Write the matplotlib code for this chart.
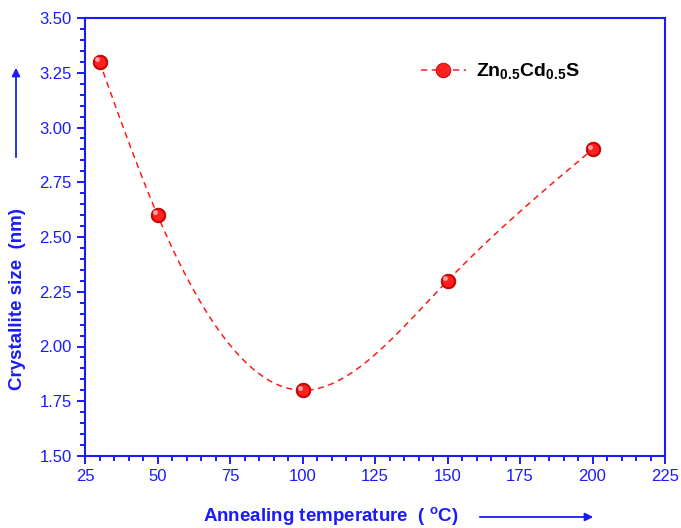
import matplotlib
matplotlib.use('Agg')
import matplotlib.pyplot as plt
from matplotlib.ticker import MultipleLocator
import numpy as np

BLUE = '#1a1aff'

temperature = [30, 50, 100, 150, 200]
crystallite_size = [3.30, 2.60, 1.80, 2.30, 2.90]
legend_label = r'$\mathbf{Zn_{0.5}Cd_{0.5}S}$'

plt.rcParams['font.family'] = ['Liberation Sans', 'DejaVu Sans']
plt.rcParams['mathtext.fontset'] = 'custom'
plt.rcParams['mathtext.bf'] = 'Liberation Sans:bold'
plt.rcParams['mathtext.rm'] = 'Liberation Sans'


def natural_spline(x, y, n=300):
    # natural cubic spline through the points, for the smooth dashed line
    x = np.asarray(x, float)
    y = np.asarray(y, float)
    k = len(x)
    h = np.diff(x)
    A = np.zeros((k, k))
    b = np.zeros(k)
    A[0, 0] = A[-1, -1] = 1
    for i in range(1, k - 1):
        A[i, i - 1] = h[i - 1]
        A[i, i] = 2 * (h[i - 1] + h[i])
        A[i, i + 1] = h[i]
        b[i] = 6 * ((y[i + 1] - y[i]) / h[i] - (y[i] - y[i - 1]) / h[i - 1])
    m = np.linalg.solve(A, b)
    xs = np.linspace(x[0], x[-1], n)
    idx = np.clip(np.searchsorted(x, xs) - 1, 0, k - 2)
    x0, x1 = x[idx], x[idx + 1]
    hh = x1 - x0
    t0, t1 = x1 - xs, xs - x0
    ys = (m[idx] * t0 ** 3 / (6 * hh) + m[idx + 1] * t1 ** 3 / (6 * hh)
          + (y[idx] / hh - m[idx] * hh / 6) * t0
          + (y[idx + 1] / hh - m[idx + 1] * hh / 6) * t1)
    return xs, ys


fig = plt.figure(figsize=(6.81, 5.28), dpi=100)
ax = fig.add_axes([85 / 681, 1 - 456 / 528, 580 / 681, 438 / 528])

xs, ys = natural_spline(temperature, crystallite_size)
ax.plot(xs, ys, '--', color='#ff1a1a', lw=1.1, dashes=(4, 3))

# sphere-like markers
ax.plot(temperature, crystallite_size, 'o', ms=10.5, color='#d80000', mec='#b00000', mew=0.6, zorder=3)
ax.plot(temperature, crystallite_size, 'o', ms=8, color='#ff2020', mew=0, zorder=4)
ax.plot(np.array(temperature) - 0.7, np.array(crystallite_size) + 0.012, 'o', ms=3.5,
        color='#ffa0a0', mew=0, zorder=5)

# legend entry
h_line, = ax.plot([], [], '--', color='#ff1a1a', lw=1.1, dashes=(4, 3),
                  marker='o', ms=10.5, mfc='#ff2020', mec='#c00000', mew=0.6)
ax.legend([h_line], [legend_label], loc='upper right', bbox_to_anchor=(0.882, 0.941),
          frameon=False, fontsize=14, handlelength=2.3, handletextpad=0.5)

ax.set_xlim(25, 225)
ax.set_ylim(1.5, 3.5)
ax.xaxis.set_major_locator(MultipleLocator(25))
ax.xaxis.set_minor_locator(MultipleLocator(5))
ax.yaxis.set_major_locator(MultipleLocator(0.25))
ax.yaxis.set_minor_locator(MultipleLocator(0.05))
ax.yaxis.set_major_formatter(matplotlib.ticker.FormatStrFormatter('%.2f'))

for s in ax.spines.values():
    s.set_color(BLUE)
    s.set_linewidth(1.5)
ax.tick_params(which='both', direction='out', colors=BLUE, width=1.4, labelsize=12,
               labelcolor=BLUE)
ax.tick_params(which='major', length=6)
ax.tick_params(which='minor', length=3.5)

fig.text(18 / 681, 1 - 299 / 528, 'Crystallite size  (nm)', rotation=90, color=BLUE,
         fontsize=13.5, fontweight='bold', ha='center', va='center')
fig.text(331 / 681, 1 - 517 / 528, r'Annealing temperature  ( $^{\mathbf{o}}$C)', color=BLUE,
         fontsize=13.5, fontweight='bold', ha='center', va='center')

fig.add_artist(matplotlib.patches.FancyArrowPatch(
    (16 / 681, 1 - 160 / 528), (16 / 681, 1 - 65 / 528), transform=fig.transFigure,
    arrowstyle='-|>', mutation_scale=12, color=BLUE, lw=1.3))
fig.add_artist(matplotlib.patches.FancyArrowPatch(
    (477 / 681, 1 - 517 / 528), (596 / 681, 1 - 517 / 528), transform=fig.transFigure,
    arrowstyle='-|>', mutation_scale=12, color=BLUE, lw=1.3))

fig.savefig('out.png', dpi=100)
